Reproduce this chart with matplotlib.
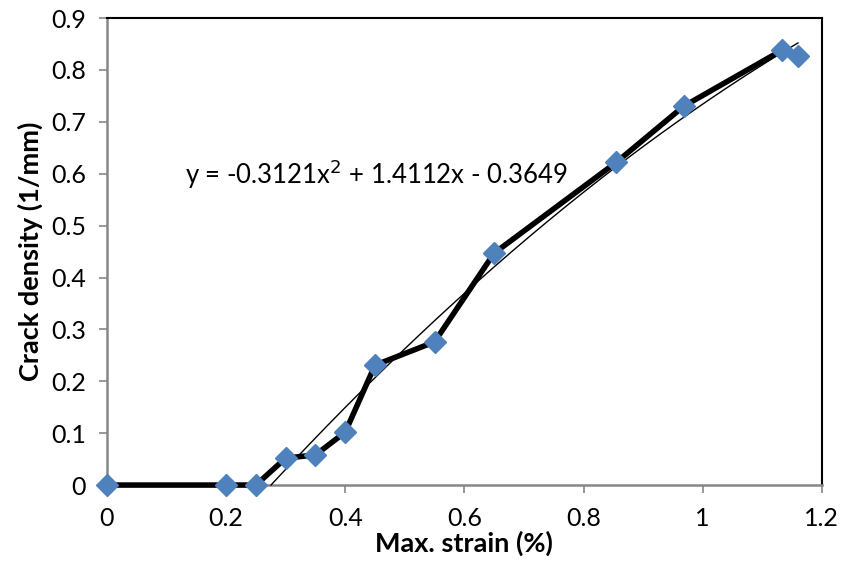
import numpy as np
import matplotlib.pyplot as plt

plt.rcParams['font.family'] = ['Lato', 'DejaVu Sans']

# datos
strain = [0, 0.2, 0.25, 0.3, 0.35, 0.4, 0.45, 0.55, 0.65, 0.855, 0.968, 1.133, 1.16]
density = [0, 0, 0, 0.052, 0.058, 0.102, 0.231, 0.276, 0.447, 0.622, 0.730, 0.838, 0.827]

# coeficientes de la linea de tendencia (ecuacion mostrada)
trend_coef = [-0.3121, 1.4112, -0.3649]
trend_label = "y = -0.3121x$^2$ + 1.4112x - 0.3649"

fig = plt.figure(figsize=(8.42, 5.66), dpi=100)
ax = fig.add_axes([0.127, 0.143, 0.849, 0.825])

ax.plot(strain, density, color='black', linewidth=4, zorder=3)
ax.plot(strain, density, linestyle='none', marker='D', markersize=11,
        color='#4F81BD', zorder=5)

# linea de tendencia (polinomio de orden 2), solo donde y >= 0
xt = np.linspace(0, max(strain), 300)
yt = np.polyval(trend_coef, xt)
mask = yt >= 0
ax.plot(xt[mask], yt[mask], color='black', linewidth=1, zorder=4)

ax.text(0.131, 0.6, trend_label, fontsize=18.5, color='black', va='center')

ax.set_xlim(0, 1.2)
ax.set_ylim(0, 0.9)
ax.set_xticks(np.arange(0, 1.21, 0.2))
ax.set_xticklabels(['0', '0.2', '0.4', '0.6', '0.8', '1', '1.2'])
ax.set_yticks(np.arange(0, 0.91, 0.1))
ax.set_yticklabels(['0', '0.1', '0.2', '0.3', '0.4', '0.5', '0.6', '0.7', '0.8', '0.9'])
ax.tick_params(labelsize=18, color='#868686', length=6, width=1.2, direction='out')
ax.tick_params(axis='x', pad=10)
ax.tick_params(axis='y', pad=9)

for s in ['left', 'bottom']:
    ax.spines[s].set_color('#868686')
    ax.spines[s].set_linewidth(1.8)
for s in ['top', 'right']:
    ax.spines[s].set_color('black')
    ax.spines[s].set_linewidth(1.5)

ax.set_xlabel("Max. strain (%)", fontsize=19.5, fontweight='bold', labelpad=0)
ax.set_ylabel("Crack density (1/mm)", fontsize=19.5, fontweight='bold', labelpad=6)

for l in ax.get_lines():
    l.set_clip_on(False)

plt.savefig("out.png", dpi=100)
